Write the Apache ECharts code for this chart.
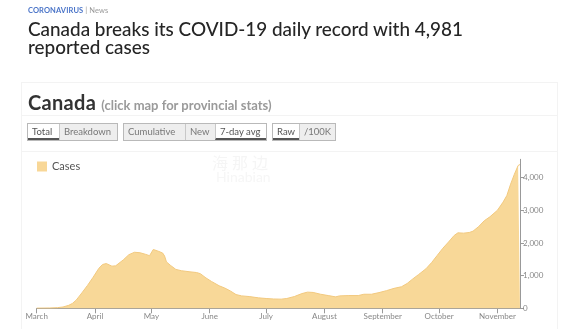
<!DOCTYPE html>
<html>
<head>
<meta charset="utf-8">
<script src="https://cdn.jsdelivr.net/npm/echarts@6/dist/echarts.min.js"></script>
<style>
  html, body { margin: 0; padding: 0; background: #fff; width: 566px; height: 329px; overflow: hidden; }
  body { position: relative; font-family: Lato, "Noto Sans", sans-serif; }
  #chart { position: absolute; left: 0; top: 0; width: 566px; height: 329px; }
  .abs { position: absolute; z-index: 2; white-space: nowrap; }
  #kicker { left: 28px; top: 6px; font-size: 7.5px; font-weight: bold; color: #4a74c8; letter-spacing: 0.1px; }
  #kicker span { color: #999; font-weight: normal; }
  #headline { left: 28px; top: 20px; font-size: 18.9px; line-height: 18px; color: #262626; font-weight: 500; }
  #panel { position: absolute; left: 21px; top: 82px; width: 535px; height: 260px; border: 1px solid #f3f3f3; z-index: 1; }
  .rule { position: absolute; left: 21px; width: 536px; height: 1px; background: #f3f3f3; z-index: 1; }
  #place { left: 28px; top: 90px; font-size: 20px; font-weight: bold; color: #333; letter-spacing: 0.3px; }
  #place span { font-size: 13px; font-weight: bold; color: #9a9a9a; letter-spacing: 0; }
  .grp { position: absolute; top: 123px; height: 18px; display: flex; z-index: 2; border: 1px solid #b9b9b9; box-sizing: border-box; }
  .btn { font-size: 9.5px; color: #777; line-height: 16px; padding: 0 4px; background: #eee; border-left: 1px solid #c8c8c8; box-sizing: border-box; }
  .btn:first-child { border-left: none; }
  .btn.on { background: #fff; color: #555; border-bottom: 2px solid #555; }
  #wm1 { left: 212px; top: 150px; font-size: 16px; color: #f5f5f5; font-family: "Noto Sans CJK SC", sans-serif; letter-spacing: 4px; }
  #wm2 { left: 216px; top: 168px; font-size: 14px; color: #f6f6f6; }
</style>
</head>
<body>
<div id="chart"></div>
<div id="panel"></div>
<div class="rule" style="top:115px"></div>
<div class="rule" style="top:151px"></div>
<div class="abs" id="kicker">CORONAVIRUS <span>| News</span></div>
<div class="abs" id="headline">Canada breaks its COVID-19 daily record with 4,981<br>reported cases</div>
<div class="abs" id="place">Canada <span>(click map for provincial stats)</span></div>
<div class="grp" style="left:27px;width:91px"><div class="btn on" style="width:31px">Total</div><div class="btn" style="flex:1">Breakdown</div></div>
<div class="grp" style="left:123px;width:144px"><div class="btn" style="width:61px">Cumulative</div><div class="btn" style="width:30px">New</div><div class="btn on" style="flex:1">7-day avg</div></div>
<div class="grp" style="left:272px;width:64px"><div class="btn on" style="width:30px">Raw</div><div class="btn" style="flex:1">/100K</div></div>
<div class="abs" id="wm1">海那边</div>
<div class="abs" id="wm2">Hinabian</div>
<script>
// Canada, new cases, 7-day rolling average (2020)
const dates = [
  '2020-03-01','2020-03-08','2020-03-12','2020-03-15','2020-03-18','2020-03-20','2020-03-22','2020-03-25','2020-03-28','2020-03-31',
  '2020-04-03','2020-04-05','2020-04-07','2020-04-08','2020-04-10','2020-04-12','2020-04-13','2020-04-16','2020-04-19','2020-04-22',
  '2020-04-25','2020-04-28','2020-04-30','2020-05-02','2020-05-03','2020-05-05','2020-05-07','2020-05-08','2020-05-09','2020-05-11',
  '2020-05-14','2020-05-17','2020-05-21','2020-05-25','2020-05-27','2020-05-30','2020-06-02','2020-06-06','2020-06-09','2020-06-12',
  '2020-06-15','2020-06-18','2020-06-22','2020-06-27','2020-07-01','2020-07-05','2020-07-09','2020-07-12','2020-07-16','2020-07-20',
  '2020-07-23','2020-07-26','2020-07-30','2020-08-03','2020-08-07','2020-08-08','2020-08-09','2020-08-14','2020-08-19','2020-08-22',
  '2020-08-26','2020-08-30','2020-09-03','2020-09-07','2020-09-11','2020-09-14','2020-09-17','2020-09-20','2020-09-24','2020-09-27',
  '2020-09-30','2020-10-03','2020-10-06','2020-10-09','2020-10-11','2020-10-14','2020-10-17','2020-10-19','2020-10-22','2020-10-25',
  '2020-10-28','2020-11-01','2020-11-04','2020-11-06','2020-11-08','2020-11-10','2020-11-12','2020-11-13'
];
const cases = [
  5, 10, 20, 40, 90, 150, 250, 470, 700, 950,
  1220, 1340, 1370, 1385, 1290, 1300, 1320, 1480, 1640, 1715,
  1700, 1650, 1610, 1800, 1790, 1740, 1690, 1600, 1420, 1320,
  1190, 1150, 1120, 1095, 1060, 930, 820, 690, 620, 530,
  420, 380, 360, 320, 300, 285, 280, 300, 360, 450,
  495, 485, 430, 390, 350, 330, 380, 390, 390, 430,
  430, 480, 540, 610, 660, 760, 900, 1030, 1210, 1400,
  1620, 1840, 2030, 2230, 2310, 2300, 2320, 2360, 2500, 2680,
  2800, 3000, 3250, 3450, 3800, 4100, 4370, 4400
];
const monthNames = ['January','February','March','April','May','June','July','August','September','October','November','December'];
const yTicks = [0, 1000, 2000, 3000, 4000];

const DAY = 86400000;
const chart = echarts.init(document.getElementById('chart'), null, { renderer: 'canvas' });
chart.setOption({
  animation: false,
  legend: {
    data: ['Cases'],
    left: 32, top: 156,
    icon: 'rect', itemWidth: 10, itemHeight: 10, itemGap: 6,
    textStyle: { fontFamily: 'Lato, "Noto Sans", sans-serif', fontSize: 11, color: '#555' }
  },
  grid: { left: 36.7, right: 46, top: 159.3, bottom: 20.7, containLabel: false },
  xAxis: {
    type: 'time',
    min: '2020-03-01',
    max: '2020-11-13',
    minInterval: 28 * DAY,
    maxInterval: 31 * DAY,
    axisLine: { show: true, lineStyle: { color: '#999', width: 1 } },
    axisTick: { show: true, length: 5, lineStyle: { color: '#999' } },
    splitLine: { show: false },
    axisLabel: {
      color: '#888', fontSize: 8, margin: 4,
      fontFamily: 'Lato, "Noto Sans", sans-serif',
      hideOverlap: false,
      formatter: v => monthNames[new Date(v).getMonth()]
    }
  },
  yAxis: {
    type: 'value',
    position: 'right',
    min: 0, max: 4560, interval: 1000,
    axisLine: { show: true, lineStyle: { color: '#999', width: 1 } },
    axisTick: { show: true, length: 4, lineStyle: { color: '#999' } },
    splitLine: { show: false },
    axisLabel: {
      color: '#888', fontSize: 8, margin: 3,
      fontFamily: 'Lato, "Noto Sans", sans-serif',
      showMaxLabel: false,
      formatter: v => yTicks.includes(v) ? v.toLocaleString('en-US') : ''
    }
  },
  series: [{
    name: 'Cases',
    type: 'line',
    data: dates.map((d, i) => [d, cases[i]]),
    showSymbol: false,
    smooth: false,
    itemStyle: { color: '#f8d797' },
    lineStyle: { color: '#f2c97f', width: 1 },
    areaStyle: { color: '#f8d898', opacity: 1 }
  }]
});
</script>
</body>
</html>
